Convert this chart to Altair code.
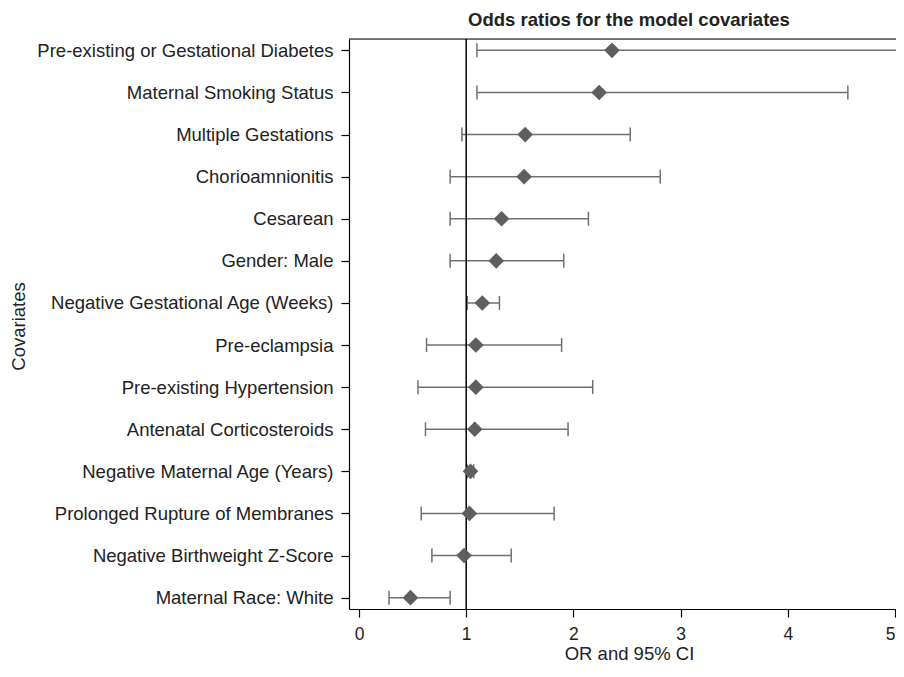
import altair as alt
import pandas as pd

covariates = [
    "Pre-existing or Gestational Diabetes",
    "Maternal Smoking Status",
    "Multiple Gestations",
    "Chorioamnionitis",
    "Cesarean",
    "Gender: Male",
    "Negative Gestational Age (Weeks)",
    "Pre-eclampsia",
    "Pre-existing Hypertension",
    "Antenatal Corticosteroids",
    "Negative Maternal Age (Years)",
    "Prolonged Rupture of Membranes",
    "Negative Birthweight Z-Score",
    "Maternal Race: White",
]
odds_ratio = [2.36, 2.24, 1.55, 1.54, 1.33, 1.28, 1.15, 1.09, 1.09, 1.08, 1.04, 1.03, 0.98, 0.48]
ci_low = [1.10, 1.10, 0.96, 0.85, 0.85, 0.85, 1.01, 0.63, 0.55, 0.62, 1.01, 0.58, 0.68, 0.28]
ci_high = [5.04, 4.56, 2.53, 2.81, 2.14, 1.91, 1.31, 1.89, 2.18, 1.95, 1.07, 1.82, 1.42, 0.85]
x_ticks = [0, 1, 2, 3, 4, 5]
reference_or = [1]

df = pd.DataFrame({"covariate": covariates, "or": odds_ratio, "lo": ci_low, "hi": ci_high})

W, H = 547, 570
FONT = "Liberation Sans"
TXT = "#222222"
WHISK = "#707070"
DIAM = "#5e5e5e"

xscale = alt.Scale(domain=[-0.0933, 5.009], nice=False, zero=False)
yscale = alt.Scale(type="point", padding=0.27)

x_axis = alt.Axis(
    values=x_ticks, format="d", title="OR and 95% CI", grid=False,
    tickSize=8, labelPadding=8, labelFontSize=17.5, labelFont=FONT, labelColor=TXT,
    domainColor="black", tickColor="black", domainWidth=1.2, tickWidth=1.2,
    titleFont=FONT, titleFontSize=18.5, titleFontWeight="normal", titleColor=TXT,
    titleX=280, titleY=50, titleAlign="center", titleBaseline="alphabetic",
)
y_axis = alt.Axis(
    title="Covariates", grid=False, tickSize=8, labelPadding=8,
    labelFontSize=18.5, labelFont=FONT, labelColor=TXT, labelLimit=400,
    domainColor="black", tickColor="black", domainWidth=1.2, tickWidth=1.2,
    titleFont=FONT, titleFontSize=18.5, titleFontWeight="normal", titleColor=TXT,
    titleX=-331, titleY=287, titleAngle=270, titleAlign="center", titleBaseline="middle",
)

y_enc = alt.Y("covariate:N", sort=covariates, scale=yscale, axis=y_axis)
y_plain = alt.Y("covariate:N", sort=covariates, scale=yscale)

base = alt.Chart(df)

whiskers = base.mark_rule(color=WHISK, strokeWidth=1.5).encode(
    x=alt.X("lo:Q", scale=xscale, axis=x_axis), x2="hi:Q", y=y_enc
)
cap_lo = base.mark_tick(color=WHISK, thickness=1.5, size=14, opacity=1).encode(
    x=alt.X("lo:Q", scale=xscale), y=y_plain
)
cap_hi = base.mark_tick(color=WHISK, thickness=1.5, size=14, opacity=1).encode(
    x=alt.X("hi:Q", scale=xscale), y=y_plain
)
ref = alt.Chart(pd.DataFrame({"ref": reference_or})).mark_rule(color="black", strokeWidth=1.5).encode(
    x=alt.X("ref:Q", scale=xscale)
)
points = base.mark_point(shape="diamond", filled=True, size=245, color=DIAM, opacity=1).encode(
    x=alt.X("or:Q", scale=xscale), y=y_plain
)
top_line = alt.Chart(pd.DataFrame({"a": [0]})).mark_rule(color="black", strokeWidth=1.2).encode(
    x=alt.value(0), x2=alt.value(W), y=alt.value(0)
)

chart = alt.layer(whiskers, cap_lo, cap_hi, ref, points, top_line).properties(
    width=W, height=H,
    title=alt.TitleParams(
        text="Odds ratios for the model covariates", fontSize=18.5, fontWeight="bold",
        font=FONT, color=TXT, anchor="middle", frame="group", dx=6.5, offset=14, dy=20,
        baseline="alphabetic",
    ),
    autosize=alt.AutoSizeParams(type="none"),
    padding={"left": 341, "top": 31, "right": 0, "bottom": 56},
).configure_view(stroke=None).configure(background="white")

chart.save("out.html", embed_options={"renderer": "svg", "actions": False})
